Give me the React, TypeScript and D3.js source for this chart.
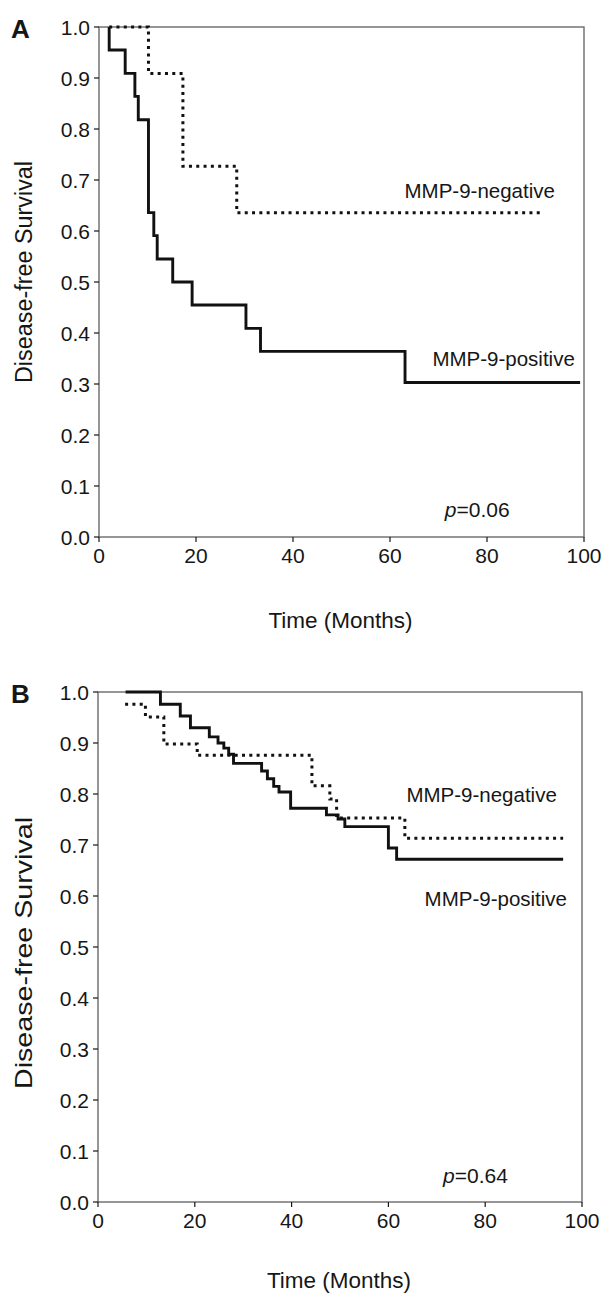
import React from "react";
import * as d3 from "d3";

// ---------- data ----------
const xTicks = [0, 20, 40, 60, 80, 100];
const yTicks = [0, 0.1, 0.2, 0.3, 0.4, 0.5, 0.6, 0.7, 0.8, 0.9, 1.0];

// Panel A – MMP-9-positive (solid)
const aPosTime = [2.1, 2.1, 5.4, 7.4, 8.1, 10.2, 11.3, 12.0, 15.2, 19.2, 30.3, 33.3, 63.1, 99.2];
const aPosSurv = [1.0, 0.955, 0.909, 0.864, 0.818, 0.636, 0.591, 0.545, 0.5, 0.455, 0.409, 0.364, 0.303, 0.303];
// Panel A – MMP-9-negative (dotted)
const aNegTime = [2.1, 10.2, 17.3, 28.4, 91.5];
const aNegSurv = [1.0, 0.909, 0.727, 0.636, 0.636];

// Panel B – MMP-9-positive (solid)
const bPosTime = [5.7, 12.9, 17.0, 19.1, 23.0, 24.8, 26.0, 27.0, 28.0, 33.8, 35.0, 36.3, 37.4, 39.8, 47.2, 49.6, 51.0, 60.0, 61.7, 96.1];
const bPosSurv = [1.0, 0.976, 0.953, 0.93, 0.912, 0.9, 0.89, 0.878, 0.86, 0.845, 0.83, 0.815, 0.804, 0.772, 0.759, 0.751, 0.736, 0.694, 0.672, 0.672];
// Panel B – MMP-9-negative (dotted)
const bNegTime = [5.6, 9.8, 13.6, 20.5, 44.2, 47.9, 49.3, 63.4, 96.1];
const bNegSurv = [0.976, 0.951, 0.898, 0.876, 0.816, 0.79, 0.753, 0.713, 0.713];

const panelLetters = ["A", "B"];
const pValues = ["0.06", "0.64"];
const seriesNames = ["MMP-9-negative", "MMP-9-positive"];
const yTitle = "Disease-free Survival";
const xTitle = "Time (Months)";

const FONT = "'Liberation Sans', Arial, Helvetica, sans-serif";
const INK = "#161616";
const FRAME = "#6a6a6a";

type PanelProps = {
  letter: string;
  pValue: string;
  posT: number[];
  posS: number[];
  negT: number[];
  negS: number[];
  x0: number;
  x1: number;
  yTop: number;
  yBot: number;
  negLabel: [number, number];
  posLabel: [number, number];
  pLabel: [number, number];
  yTitleSize: number;
  yTitleLen: number;
  yTitleShift: number;
  xTitleGap: number;
};

function Panel(p: PanelProps) {
  const x = d3.scaleLinear().domain([0, 100]).range([p.x0, p.x1]);
  const y = d3.scaleLinear().domain([0, 1]).range([p.yBot, p.yTop]);
  const line = d3
    .line<[number, number]>()
    .x((d) => x(d[0]))
    .y((d) => y(d[1]))
    .curve(d3.curveStepAfter);
  const pos: [number, number][] = p.posT.map((t, i) => [t, p.posS[i]]);
  const neg: [number, number][] = p.negT.map((t, i) => [t, p.negS[i]]);
  const midY = (p.yTop + p.yBot) / 2 + p.yTitleShift;
  const midX = (p.x0 + p.x1) / 2;
  return (
    <g fontFamily={FONT} fill={INK}>
      {/* frame */}
      <rect
        x={p.x0}
        y={p.yTop}
        width={p.x1 - p.x0}
        height={p.yBot - p.yTop}
        fill="none"
        stroke={FRAME}
        strokeWidth={1.4}
      />
      {/* y ticks */}
      {yTicks.map((t) => (
        <g key={"y" + t}>
          <line x1={p.x0 - 5} x2={p.x0} y1={y(t)} y2={y(t)} stroke={INK} strokeWidth={1.2} />
          <text x={p.x0 - 9} y={y(t)} dy="0.36em" textAnchor="end" fontSize={21}>
            {d3.format(".1f")(t)}
          </text>
        </g>
      ))}
      {/* x ticks */}
      {xTicks.map((t) => (
        <g key={"x" + t}>
          <line x1={x(t)} x2={x(t)} y1={p.yBot} y2={p.yBot + 5} stroke={INK} strokeWidth={1.2} />
          <text x={x(t)} y={p.yBot + 26} textAnchor="middle" fontSize={21}>
            {t}
          </text>
        </g>
      ))}
      {/* curves */}
      <path d={line(neg) || ""} fill="none" stroke="#111" strokeWidth={3} strokeDasharray="3,4.3" />
      <path d={line(pos) || ""} fill="none" stroke="#111" strokeWidth={2.9} />
      {/* labels */}
      <text x={x(p.negLabel[0])} y={y(p.negLabel[1])} textAnchor="end" fontSize={20.5}>
        {seriesNames[0]}
      </text>
      <text x={x(p.posLabel[0])} y={y(p.posLabel[1])} textAnchor="end" fontSize={20.5}>
        {seriesNames[1]}
      </text>
      <text x={x(p.pLabel[0])} y={y(p.pLabel[1])} fontSize={21}>
        <tspan fontStyle="italic">p</tspan>
        <tspan>={p.pValue}</tspan>
      </text>
      {/* panel letter */}
      <text x={11} y={p.yTop + 11} fontSize={26} fontWeight="bold">
        {p.letter}
      </text>
      {/* axis titles */}
      <text
        transform={`translate(${32},${midY}) rotate(-90)`}
        textAnchor="middle"
        fontSize={p.yTitleSize}
        textLength={p.yTitleLen}
        lengthAdjust="spacingAndGlyphs"
      >
        {yTitle}
      </text>
      <text x={midX - 1} y={p.yBot + p.xTitleGap} textAnchor="middle" fontSize={22.5}>
        {xTitle}
      </text>
    </g>
  );
}

export default function App() {
  return (
    <div style={{ position: "absolute", left: 0, top: 0 }}>
      <svg width={603} height={1295} style={{ display: "block", background: "#fff" }}>
        <rect width={603} height={1295} fill="#fff" />
        <Panel
          letter={panelLetters[0]}
          pValue={pValues[0]}
          posT={aPosTime}
          posS={aPosSurv}
          negT={aNegTime}
          negS={aNegSurv}
          x0={99}
          x1={584}
          yTop={27}
          yBot={537}
          negLabel={[94, 0.665]}
          posLabel={[98.1, 0.335]}
          pLabel={[71.3, 0.039]}
          yTitleSize={23}
          yTitleLen={222}
          yTitleShift={-10}
          xTitleGap={91}
        />
        <Panel
          letter={panelLetters[1]}
          pValue={pValues[1]}
          posT={bPosTime}
          posS={bPosSurv}
          negT={bNegTime}
          negS={bNegSurv}
          x0={98}
          x1={582}
          yTop={692}
          yBot={1202}
          negLabel={[94.8, 0.784]}
          posLabel={[96.9, 0.58]}
          pLabel={[71.3, 0.037]}
          yTitleSize={24}
          yTitleLen={272}
          yTitleShift={6}
          xTitleGap={86}
        />
      </svg>
    </div>
  );
}
